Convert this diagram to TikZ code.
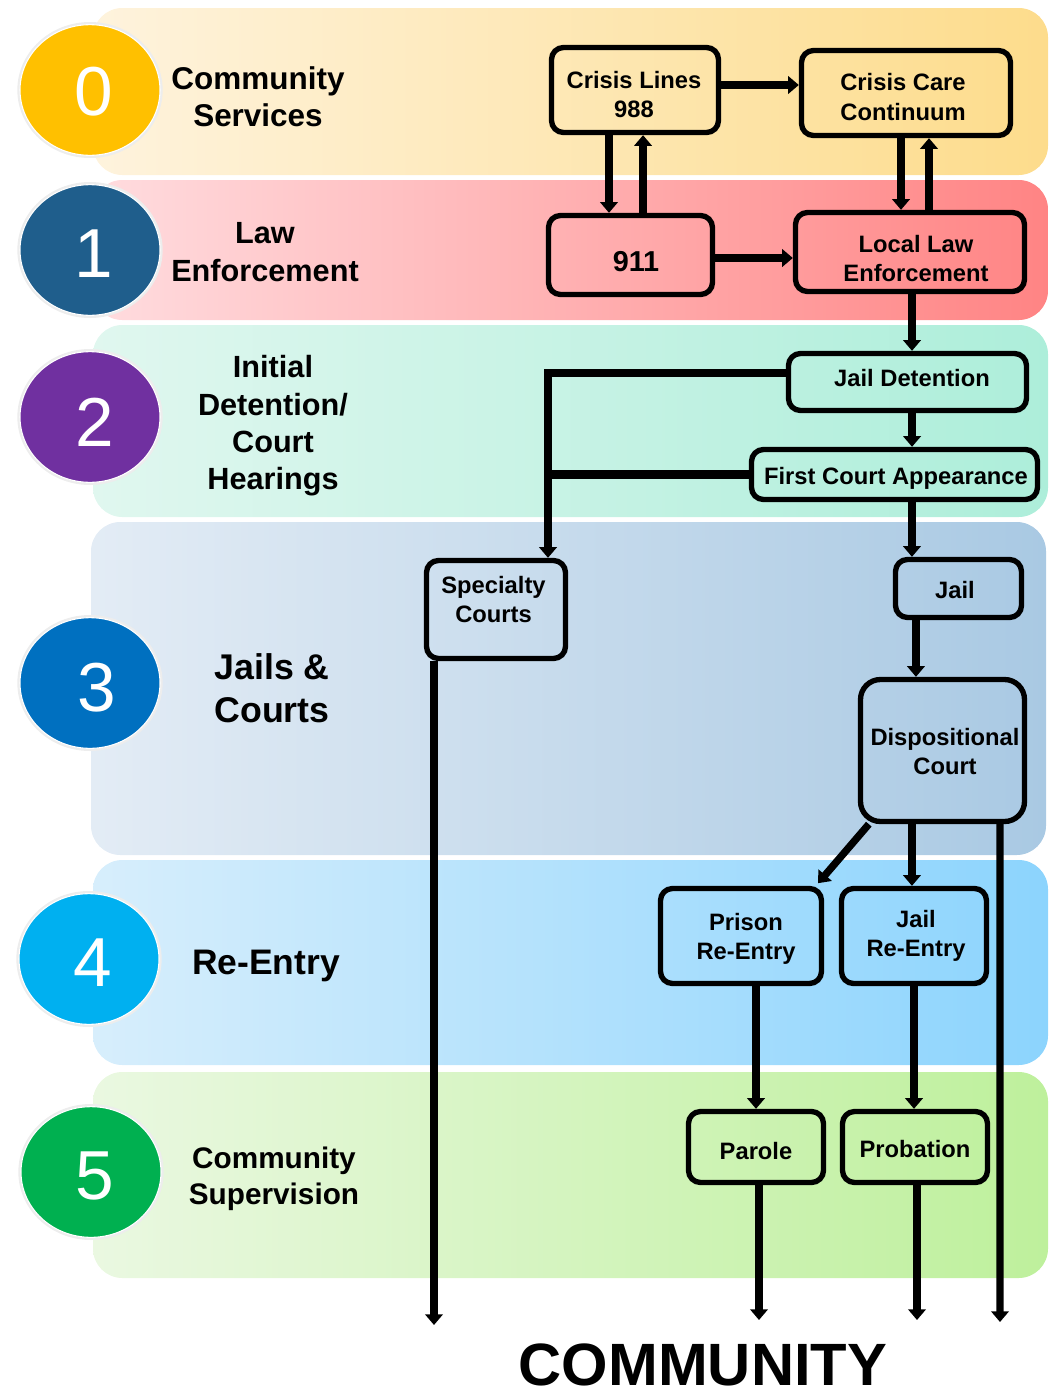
\documentclass[tikz,border=0pt]{standalone}
\usepackage{fontspec}
\setmainfont{Liberation Sans}
\usetikzlibrary{arrows.meta,shapes.geometric,calc}
\definecolor{bzl}{HTML}{FEF3DD}\definecolor{bzr}{HTML}{FDDC8C}
\definecolor{bal}{HTML}{FFDCDF}\definecolor{bar}{HTML}{FF8484}
\definecolor{bbl}{HTML}{E0F7EF}\definecolor{bbr}{HTML}{ADEEDA}
\definecolor{bcl}{HTML}{E3ECF5}\definecolor{bcr}{HTML}{A9C9E3}
\definecolor{bdl}{HTML}{D7EEFC}\definecolor{bdr}{HTML}{8CD4FD}
\definecolor{bel}{HTML}{EAF8E1}\definecolor{ber}{HTML}{BEF09C}
\definecolor{cz}{HTML}{FFC000}\definecolor{ca}{HTML}{1F5E8C}
\definecolor{cb}{HTML}{7030A0}\definecolor{cc}{HTML}{0070C0}
\definecolor{cd}{HTML}{00B0F0}\definecolor{ce}{HTML}{00B050}
\begin{document}
\begin{tikzpicture}[x=0.75pt,y=-0.75pt,
  band/.style={rounded corners=22pt},
  circ/.style={ellipse, fill=#1, draw=white, line width=0.8pt, minimum width=105pt, minimum height=98pt, inner sep=0pt, preaction={draw=black!7, line width=4pt}},
  digit/.style={inner sep=0pt, text=white, font=\fontsize{52}{52}\selectfont},
  lab/.style={align=center, inner sep=0pt},
  stepbox/.style={draw=black, line width=4pt, rounded corners=9pt, inner sep=0pt},
  boxtext/.style={align=center, inner sep=0pt, font=\bfseries\fontsize{17.8}{22}\selectfont},
  conn/.style={draw=black, line width=5.5pt},
  arr/.style={conn, -{Triangle[width=13pt,length=8pt]}}]
\useasboundingbox (0,0) rectangle (1056,1396);
% bands
\shade[band, left color=bzl, right color=bzr] (93,8) rectangle (1048,175);
\shade[band, left color=bal, right color=bar] (93,180) rectangle (1048,320);
\shade[band, left color=bbl, right color=bbr] (93,325) rectangle (1048,517);
\shade[band, left color=bcl, right color=bcr] (91,522) rectangle (1046,855);
\shade[band, left color=bdl, right color=bdr] (93,860) rectangle (1048,1065);
\shade[band, left color=bel, right color=ber] (93,1072) rectangle (1048,1278);
% circles
\node[circ=cz] (k0) at (90,90) {};
\node[circ=ca] (k1) at (90,250) {};
\node[circ=cb] (k2) at (90,417) {};
\node[circ=cc] (k3) at (90,683) {};
\node[circ=cd] (k4) at (89,959) {};
\node[circ=ce] (k5) at (91,1172) {};
\node[digit] (d0) at (94,92) {0};
\node[digit] (d1) at (94,254) {1};
\node[digit] (d2) at (95,422) {2};
\node[digit] (d3) at (97,688) {3};
\node[digit] (d4) at (93,963) {4};
\node[digit] (d5) at (95,1176) {5};
% stage labels
\node[lab, font=\bfseries\fontsize{23.6}{27.75}\selectfont] (l0) at (258,97) {Community\\Services};
\node[lab, font=\bfseries\fontsize{23}{28.5}\selectfont] (l1) at (265,252) {Law\\Enforcement};
\node[lab, font=\bfseries\fontsize{23}{28}\selectfont] (l2) at (273,426) {Initial\\Detention/\\Court\\Hearings};
\node[lab, font=\bfseries\fontsize{26.8}{32}\selectfont] (l3) at (272,688) {Jails \&\\Courts};
\node[lab, font=\bfseries\fontsize{26.6}{32}\selectfont] (l4) at (266,966) {Re-Entry};
\node[lab, font=\bfseries\fontsize{22.3}{27}\selectfont] (l5) at (274,1179) {Community\\Supervision};
% boxes
\node[stepbox, minimum width=125.25pt, minimum height=63.75pt] (cl) at (635,90) {};
\node[stepbox, minimum width=156.75pt, minimum height=63.75pt] (ccc) at (906,93) {};
\node[stepbox, minimum width=123pt, minimum height=59.25pt] (n911) at (630.5,255) {};
\node[stepbox, minimum width=171.75pt, minimum height=59.25pt] (lle) at (910,252) {};
\node[stepbox, minimum width=178.5pt, minimum height=42.75pt] (jd) at (907.5,382) {};
\node[stepbox, minimum width=214.5pt, minimum height=37.5pt] (fca) at (894.5,474.5) {};
\node[stepbox, minimum width=104.25pt, minimum height=73.5pt] (sc) at (496,609.5) {};
\node[stepbox, minimum width=94.5pt, minimum height=43.5pt] (jail) at (958.5,588.5) {};
\node[stepbox, minimum width=123pt, minimum height=106.5pt, rounded corners=15pt] (dc) at (942.5,750.5) {};
\node[stepbox, minimum width=120.75pt, minimum height=71.25pt] (pre) at (741,936) {};
\node[stepbox, minimum width=108.75pt, minimum height=71.25pt] (jre) at (914,936) {};
\node[stepbox, minimum width=101.25pt, minimum height=53.25pt] (par) at (756,1147) {};
\node[stepbox, minimum width=108.75pt, minimum height=53.25pt] (prob) at (915,1147) {};
% box texts
\node[boxtext] (clt) at (634,94.5) {Crisis Lines\\988};
\node[boxtext] (ccct) at (903,97) {Crisis Care\\Continuum};
\node[boxtext, font=\bfseries\fontsize{21.6}{26}\selectfont] (n911t) at (636,262) {911};
\node[boxtext] (llet) at (916,258.5) {Local Law\\Enforcement};
\node[boxtext] (jdt) at (912,378) {Jail Detention};
\node[boxtext] (fcat) at (896,478.5) {First Court Appearance};
\node[boxtext] (sct) at (493.5,599.5) {Specialty\\Courts};
\node[boxtext] (jailt) at (955,590) {Jail};
\node[boxtext] (dct) at (945,751.5) {Dispositional\\Court};
\node[boxtext] (pret) at (746,939) {Prison\\Re-Entry};
\node[boxtext] (jret) at (916,936) {Jail\\Re-Entry};
\node[boxtext] (part) at (756,1151) {Parole};
\node[boxtext] (probt) at (915,1149) {Probation};
\node[font=\bfseries\fontsize{44.8}{48}\selectfont, inner sep=0pt] (comm) at (703,1365) {COMMUNITY};
% free ends
\coordinate (e1) at (434,1325);
\coordinate (e2) at (759,1320);
\coordinate (e3) at (917,1320);
\coordinate (e4) at (1000,1322);
\coordinate (sctop) at ([xshift=39pt]sc.north);
% connectors
\draw[arr, line width=6pt] ([yshift=3.75pt]cl.east) -- ([yshift=3.75pt]cl.east -| ccc.west);
\draw[arr] ([xshift=-19.5pt]cl.south) -- ([xshift=-19.5pt]cl.south |- n911.north);
\draw[arr] ([xshift=9.4pt]n911.north) -- ([xshift=9.4pt]n911.north |- cl.south);
\draw[arr] ([xshift=-3.75pt]ccc.south) -- ([xshift=-3.75pt]ccc.south |- lle.north);
\draw[arr] ([xshift=14.25pt]lle.north) -- ([xshift=14.25pt]lle.north |- ccc.south);
\draw[arr, line width=6pt] ([yshift=-2.25pt]n911.east) -- ([yshift=-2.25pt]n911.east -| lle.west);
\draw[arr] ([xshift=1.5pt]lle.south) -- ([xshift=1.5pt]lle.south |- jd.north);
\draw[arr] ([xshift=3.4pt]jd.south) -- ([xshift=3.4pt]jd.south |- fca.north);
\draw[arr] ([yshift=6.75pt]jd.west) -| (sctop);
\draw[conn, line width=6.5pt] (fca.west) -- (fca.west -| sctop);
\draw[arr] ([xshift=13.1pt]fca.south) -- ([xshift=13.1pt]fca.south |- jail.north);
\draw[arr] ([xshift=-31.9pt]jail.south) -- ([xshift=-31.9pt]jail.south |- dc.north);
\draw[arr] (dc.225) -- ([shift={(-4.5pt,2pt)}]pre.north east);
\draw[arr] ([xshift=-22.9pt]dc.south) -- ([xshift=-22.9pt]dc.south |- jre.north);
\draw[arr] ([xshift=43.1pt]dc.south) -- (e4);
\draw[arr] ([xshift=-46.5pt]sc.south) -- (e1);
\draw[arr] ([xshift=11.25pt]pre.south) -- ([xshift=11.25pt]pre.south |- par.north);
\draw[arr] (jre.south) -- (jre.south |- prob.north);
\draw[arr] ([xshift=2.25pt]par.south) -- (e2);
\draw[arr] ([xshift=1.5pt]prob.south) -- (e3);
\end{tikzpicture}
\end{document}
